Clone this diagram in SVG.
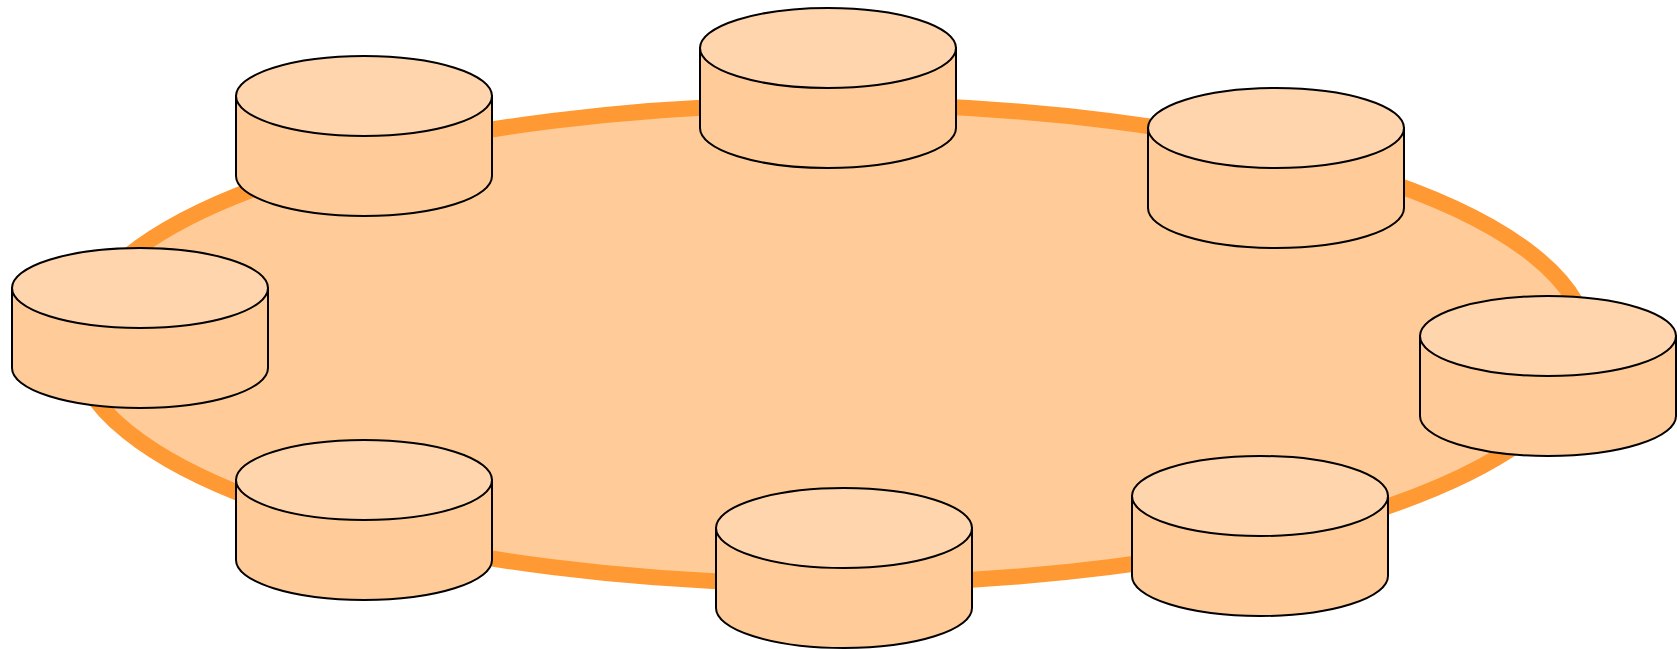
<svg xmlns="http://www.w3.org/2000/svg" width="1677" height="649" viewBox="0 0 1677 649">
<style>
.body{fill:#ffcc99;stroke:#000;stroke-width:2}
.cap{fill:#ffd5ad;stroke:#000;stroke-width:2}
</style>
<defs>
<g id="cyl">
<path class="body" d="M-128 0V80A128 40 0 0 0 128 80V0Z"/>
<ellipse class="cap" rx="128" ry="40"/>
</g>
</defs>
<g id="connectors"></g>
<g id="ring"><ellipse cx="831" cy="344" rx="756" ry="240" fill="#ffcc99" stroke="#ff9933" stroke-width="16"/></g>
<g id="node-top"><use href="#cyl" x="828" y="48"/></g>
<g id="node-top-right"><use href="#cyl" x="1276" y="128"/></g>
<g id="node-right"><use href="#cyl" x="1548" y="336"/></g>
<g id="node-bottom-right"><use href="#cyl" x="1260" y="496"/></g>
<g id="node-bottom"><use href="#cyl" x="844" y="528"/></g>
<g id="node-bottom-left"><use href="#cyl" x="364" y="480"/></g>
<g id="node-left"><use href="#cyl" x="140" y="288"/></g>
<g id="node-top-left"><use href="#cyl" x="364" y="96"/></g>
</svg>
